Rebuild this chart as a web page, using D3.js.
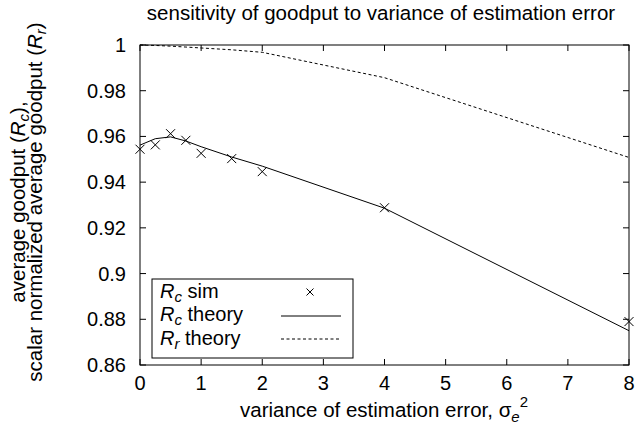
<!DOCTYPE html>
<html><head><meta charset="utf-8">
<script src="https://cdn.jsdelivr.net/npm/d3@7"></script>
<style>
body{margin:0;background:#fff;}
text{font-family:"Liberation Sans",Arial,sans-serif;fill:#000;}
</style></head>
<body><svg id="c" width="639" height="436"></svg>
<script>
const xVals = [0, 0.25, 0.5, 0.75, 1, 1.5, 2, 4, 8];
const rcSim = [0.9544, 0.9563, 0.9612, 0.9583, 0.9526, 0.9503, 0.9446, 0.9288, 0.8790];
const rcTheory = [0.9562, 0.9590, 0.9598, 0.9580, 0.9555, 0.9510, 0.9470, 0.9286, 0.8750];
const rrTheory = [1.0, 0.9998, 0.9995, 0.9991, 0.9987, 0.9979, 0.9968, 0.9857, 0.9508];
const xTicks = [0, 1, 2, 3, 4, 5, 6, 7, 8];
const yTicks = [0.86, 0.88, 0.9, 0.92, 0.94, 0.96, 0.98, 1];

const svg = d3.select("#c");
const L = 140, R = 629, T = 45, B = 365;
const x = d3.scaleLinear().domain([0, 8]).range([L, R]);
const y = d3.scaleLinear().domain([0.86, 1]).range([B, T]);
const tick = 6;

const g = svg.append("g");
g.append("rect").attr("x", L).attr("y", T).attr("width", R - L).attr("height", B - T)
  .attr("fill", "none").attr("stroke", "#000").attr("stroke-width", 1);

xTicks.forEach(v => {
  g.append("line").attr("x1", x(v)).attr("x2", x(v)).attr("y1", B).attr("y2", B - tick).attr("stroke", "#000");
  g.append("line").attr("x1", x(v)).attr("x2", x(v)).attr("y1", T).attr("y2", T + tick).attr("stroke", "#000");
  g.append("text").attr("x", x(v)).attr("y", 390).attr("text-anchor", "middle")
    .style("font-size", "20px").text(d3.format("d")(v));
});
yTicks.forEach(v => {
  g.append("line").attr("x1", L).attr("x2", L + tick).attr("y1", y(v)).attr("y2", y(v)).attr("stroke", "#000");
  g.append("line").attr("x1", R).attr("x2", R - tick).attr("y1", y(v)).attr("y2", y(v)).attr("stroke", "#000");
  g.append("text").attr("x", 126).attr("y", y(v) + 7).attr("text-anchor", "end")
    .style("font-size", "20px").text(String(v));
});

const line = d3.line().x(d => x(d[0])).y(d => y(d[1]));
g.append("path").datum(xVals.map((v, i) => [v, rcTheory[i]])).attr("d", line)
  .attr("fill", "none").attr("stroke", "#000").attr("stroke-width", 1);
g.append("path").datum(xVals.map((v, i) => [v, rrTheory[i]])).attr("d", line)
  .attr("fill", "none").attr("stroke", "#000").attr("stroke-width", 1).attr("stroke-dasharray", "3,2.5");

const cross = (sel, cx, cy, s) => {
  sel.append("path").attr("d", `M${cx - s},${cy - s}L${cx + s},${cy + s}M${cx - s},${cy + s}L${cx + s},${cy - s}`)
    .attr("stroke", "#000").attr("stroke-width", 1).attr("fill", "none");
};
xVals.forEach((v, i) => cross(g, x(v), y(rcSim[i]), 4.5));

g.append("rect").attr("x", 152).attr("y", 279).attr("width", 201).attr("height", 79)
  .attr("fill", "#fff").attr("stroke", "#000");
const rows = [
  {sub: "c", label: " sim", y: 298},
  {sub: "c", label: " theory", y: 321},
  {sub: "r", label: " theory", y: 345}
];
rows.forEach(r => {
  const t = g.append("text").attr("x", 160).attr("y", r.y).style("font-size", "20px");
  t.append("tspan").style("font-style", "italic").text("R");
  t.append("tspan").style("font-style", "italic").style("font-size", "15px").attr("dy", 4).text(r.sub);
  t.append("tspan").attr("dy", -4).text(r.label);
});
cross(g, 310, 292, 3.5);
g.append("line").attr("x1", 281).attr("x2", 341).attr("y1", 316).attr("y2", 316).attr("stroke", "#000");
g.append("line").attr("x1", 281).attr("x2", 341).attr("y1", 339).attr("y2", 339).attr("stroke", "#000").attr("stroke-dasharray", "3,2.5");

svg.append("text").attr("x", 381).attr("y", 20).attr("text-anchor", "middle").style("font-size", "20.5px")
  .text("sensitivity of goodput to variance of estimation error");

const xl = svg.append("text").attr("x", 384).attr("y", 417).attr("text-anchor", "middle").style("font-size", "20.5px");
xl.append("tspan").text("variance of estimation error, σ");
xl.append("tspan").style("font-style", "italic").style("font-size", "15px").attr("dy", 5).text("e");
xl.append("tspan").style("font-size", "15px").attr("dy", -15).text("2");

const yl = svg.append("g").attr("transform", "translate(0,202) rotate(-90)");
const y1 = yl.append("text").attr("x", 0).attr("y", 25).attr("text-anchor", "middle").style("font-size", "20.5px");
y1.append("tspan").text("average goodput (");
y1.append("tspan").style("font-style", "italic").text("R");
y1.append("tspan").style("font-style", "italic").style("font-size", "15px").attr("dy", 4).text("c");
y1.append("tspan").attr("dy", -4).text("),");
const y2 = yl.append("text").attr("x", 0).attr("y", 42).attr("text-anchor", "middle").style("font-size", "20.5px");
y2.append("tspan").text("scalar normalized average goodput (");
y2.append("tspan").style("font-style", "italic").text("R");
y2.append("tspan").style("font-style", "italic").style("font-size", "15px").attr("dy", 4).text("r");
y2.append("tspan").attr("dy", -4).text(")");
</script></body></html>
